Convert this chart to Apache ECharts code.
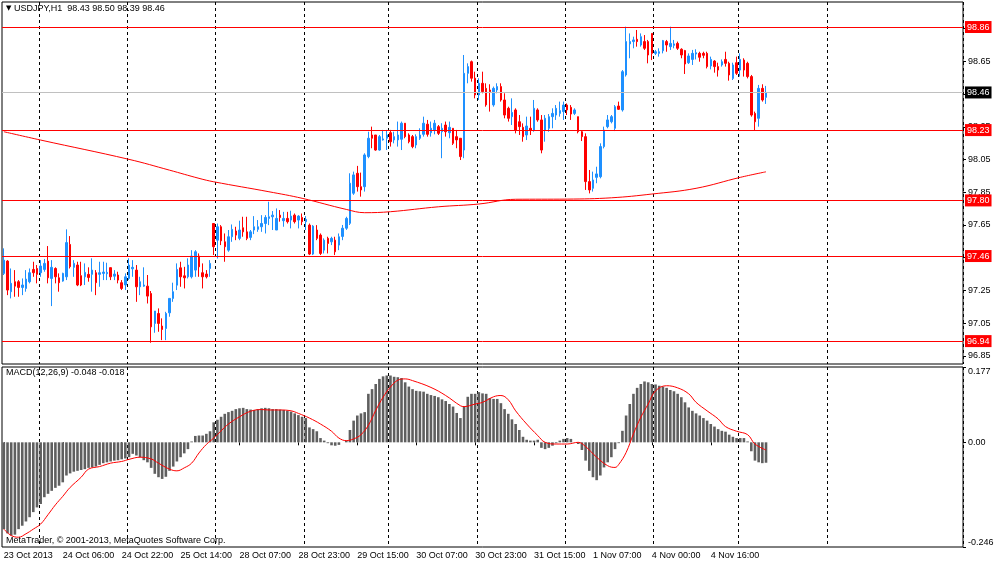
<!DOCTYPE html>
<html lang="en">
<head>
<meta charset="utf-8">
<title>USDJPY,H1</title>
<script src="https://cdn.jsdelivr.net/npm/echarts@6/dist/echarts.min.js"></script>
<style>
  html, body { margin: 0; padding: 0; background: #fff; }
  #chart { width: 1000px; height: 563px; }
</style>
</head>
<body>
<div id="chart"></div>
<script>
// hourly bars, [open, high, low, close]
var candles = [
  [97.354,97.507,97.344,97.435],[97.429,97.435,97.221,97.252],[97.242,97.384,97.201,97.293],[97.303,97.374,97.211,97.276],
  [97.303,97.313,97.211,97.268],[97.268,97.323,97.221,97.283],[97.262,97.374,97.242,97.319],[97.303,97.384,97.293,97.358],
  [97.378,97.425,97.333,97.358],[97.384,97.405,97.293,97.348],[97.358,97.435,97.333,97.399],[97.378,97.442,97.364,97.415],
  [97.429,97.521,97.293,97.327],[97.323,97.435,97.154,97.391],[97.384,97.391,97.293,97.333],[97.327,97.354,97.242,97.297],
  [97.307,97.358,97.303,97.354],[97.333,97.623,97.313,97.542],[97.531,97.582,97.384,97.395],[97.391,97.435,97.333,97.415],
  [97.405,97.425,97.276,97.283],[97.340,97.425,97.276,97.283],[97.333,97.415,97.283,97.360],[97.348,97.391,97.303,97.329],
  [97.348,97.446,97.242,97.374],[97.358,97.374,97.221,97.297],[97.348,97.425,97.272,97.358],[97.354,97.425,97.313,97.362],
  [97.352,97.419,97.313,97.360],[97.389,97.389,97.313,97.333],[97.337,97.374,97.313,97.350],[97.344,97.364,97.293,97.313],
  [97.297,97.313,97.252,97.262],[97.283,97.354,97.252,97.333],[97.323,97.446,97.313,97.405],[97.382,97.435,97.333,97.391],
  [97.374,97.405,97.180,97.272],[97.272,97.333,97.221,97.303],[97.276,97.391,97.272,97.283],[97.276,97.344,97.170,97.215],
  [97.231,97.246,96.930,97.027],[97.048,97.124,96.991,97.124],[97.109,97.140,96.997,97.048],[97.032,97.079,96.946,97.011],
  [97.017,97.119,96.946,97.109],[97.113,97.201,97.089,97.201],[97.201,97.297,97.180,97.242],[97.282,97.415,97.252,97.378],
  [97.388,97.425,97.272,97.333],[97.339,97.394,97.262,97.327],[97.333,97.446,97.323,97.405],[97.333,97.496,97.323,97.460],
  [97.374,97.496,97.333,97.486],[97.460,97.476,97.333,97.394],[97.358,97.415,97.262,97.333],[97.350,97.374,97.323,97.333],
  [97.384,97.435,97.333,97.415],[97.659,97.659,97.466,97.517],[97.557,97.659,97.445,97.639],[97.639,97.649,97.527,97.553],
  [97.547,97.598,97.425,97.517],[97.496,97.619,97.486,97.578],[97.578,97.653,97.547,97.623],[97.613,97.639,97.557,97.588],
  [97.568,97.676,97.557,97.619],[97.633,97.700,97.578,97.608],[97.608,97.700,97.557,97.568],[97.574,97.619,97.557,97.608],
  [97.619,97.704,97.594,97.639],[97.623,97.680,97.608,97.639],[97.639,97.710,97.608,97.659],[97.659,97.710,97.598,97.696],
  [97.690,97.792,97.649,97.700],[97.700,97.735,97.619,97.710],[97.619,97.751,97.619,97.690],[97.710,97.741,97.670,97.696],
  [97.676,97.730,97.639,97.690],[97.690,97.730,97.659,97.670],[97.680,97.737,97.629,97.704],[97.710,97.720,97.659,97.670],
  [97.680,97.710,97.629,97.704],[97.696,97.720,97.649,97.670],[97.670,97.704,97.619,97.684],[97.649,97.659,97.466,97.472],
  [97.472,97.649,97.466,97.643],[97.619,97.649,97.557,97.568],[97.588,97.598,97.466,97.476],[97.496,97.568,97.476,97.557],
  [97.568,97.578,97.476,97.537],[97.547,97.578,97.527,97.568],[97.557,97.578,97.466,97.486],[97.527,97.598,97.496,97.578],
  [97.580,97.650,97.557,97.630],[97.630,97.700,97.620,97.690],[97.660,97.966,97.650,97.905],[97.844,97.976,97.834,97.956],
  [97.966,98.011,97.854,97.884],[97.884,97.970,97.823,97.864],[97.884,98.088,97.854,98.078],[98.068,98.220,98.058,98.180],
  [98.200,98.251,98.119,98.180],[98.200,98.200,98.104,98.108],[98.108,98.200,98.104,98.190],[98.170,98.231,98.166,98.176],
  [98.180,98.231,98.108,98.200],[98.214,98.231,98.129,98.159],[98.170,98.220,98.149,98.190],[98.170,98.282,98.129,98.200],
  [98.174,98.282,98.108,98.272],[98.272,98.272,98.180,98.190],[98.200,98.210,98.149,98.159],[98.190,98.200,98.119,98.129],
  [98.139,98.204,98.119,98.190],[98.180,98.241,98.170,98.200],[98.204,98.312,98.190,98.272],[98.266,98.292,98.190,98.204],
  [98.214,98.282,98.190,98.241],[98.231,98.292,98.204,98.272],[98.251,98.261,98.200,98.210],[98.220,98.272,98.058,98.241],
  [98.261,98.282,98.190,98.220],[98.214,98.282,98.180,98.247],[98.241,98.241,98.139,98.149],[98.190,98.231,98.119,98.170],
  [98.180,98.180,98.047,98.068],[98.108,98.689,98.058,98.577],[98.577,98.638,98.516,98.618],[98.648,98.655,98.526,98.547],
  [98.547,98.587,98.424,98.445],[98.445,98.547,98.414,98.516],[98.516,98.587,98.455,98.465],[98.485,98.516,98.373,98.384],
  [98.475,98.510,98.343,98.465],[98.384,98.496,98.373,98.485],[98.475,98.516,98.455,98.496],[98.496,98.516,98.404,98.414],
  [98.414,98.455,98.302,98.322],[98.363,98.373,98.282,98.302],[98.312,98.424,98.261,98.338],[98.353,98.363,98.210,98.230],
  [98.281,98.322,98.200,98.251],[98.247,98.271,98.159,98.190],[98.200,98.312,98.169,98.255],[98.241,98.312,98.200,98.230],
  [98.230,98.414,98.220,98.363],[98.353,98.363,98.281,98.292],[98.292,98.322,98.088,98.108],[98.230,98.322,98.159,98.302],
  [98.241,98.328,98.220,98.312],[98.312,98.363,98.241,98.332],[98.322,98.383,98.292,98.363],[98.332,98.404,98.312,98.349],
  [98.343,98.404,98.292,98.383],[98.383,98.393,98.322,98.353],[98.369,98.383,98.292,98.328],[98.332,98.363,98.322,98.353],
  [98.312,98.312,98.210,98.220],[98.220,98.230,98.163,98.190],[98.190,98.210,97.864,97.915],[97.915,97.986,97.843,97.864],
  [97.874,97.976,97.854,97.925],[97.941,98.006,97.905,97.962],[97.945,98.149,97.935,98.129],[98.129,98.251,98.118,98.230],
  [98.251,98.322,98.241,98.292],[98.281,98.322,98.271,98.312],[98.241,98.383,98.224,98.373],[98.377,98.404,98.353,98.357],
  [98.353,98.597,98.343,98.587],[98.567,98.862,98.557,98.771],[98.757,98.821,98.669,98.771],[98.771,98.801,98.730,98.781],
  [98.785,98.842,98.740,98.771],[98.750,98.821,98.740,98.801],[98.771,98.811,98.720,98.730],[98.771,98.781,98.638,98.689],
  [98.821,98.821,98.658,98.699],[98.699,98.720,98.689,98.709],[98.699,98.730,98.679,98.709],[98.715,98.781,98.699,98.777],
  [98.771,98.781,98.709,98.750],[98.740,98.862,98.720,98.760],[98.748,98.781,98.730,98.757],[98.760,98.771,98.720,98.730],
  [98.724,98.730,98.669,98.689],[98.716,98.720,98.573,98.634],[98.642,98.699,98.634,98.683],[98.662,98.720,98.628,98.699],
  [98.695,98.724,98.662,98.703],[98.699,98.709,98.648,98.675],[98.699,98.709,98.669,98.687],[98.699,98.709,98.607,98.618],
  [98.622,98.679,98.601,98.662],[98.652,98.658,98.581,98.618],[98.618,98.642,98.557,98.597],[98.628,98.662,98.618,98.648],
  [98.662,98.709,98.618,98.638],[98.638,98.648,98.532,98.567],[98.546,98.642,98.536,98.628],[98.642,98.679,98.567,98.577],
  [98.597,98.699,98.557,98.662],[98.658,98.669,98.557,98.597],[98.638,98.648,98.546,98.557],[98.557,98.567,98.312,98.322],
  [98.332,98.343,98.230,98.281],[98.302,98.506,98.251,98.485],[98.485,98.510,98.404,98.414],[98.430,98.500,98.390,98.460]
];

// moving average, [bar index, price]
var maLine = [
  [0,98.220],[10,98.169],[34,98.051],[45,97.985],[53,97.935],[57,97.914],[72,97.853],[81,97.813],
  [93,97.745],[98,97.725],[105,97.731],[118,97.761],[129,97.778],[139,97.807],[153,97.808],
  [165,97.816],[176,97.839],[188,97.874],[200,97.941],[207,97.975]
];

var macdHist = [
  -0.204,-0.214,-0.219,-0.217,-0.204,-0.196,-0.186,-0.176,-0.164,-0.153,
  -0.145,-0.129,-0.121,-0.114,-0.107,-0.102,-0.094,-0.078,-0.073,-0.069,
  -0.067,-0.065,-0.063,-0.060,-0.059,-0.057,-0.053,-0.049,-0.047,-0.045,
  -0.043,-0.042,-0.040,-0.038,-0.035,-0.027,-0.031,-0.035,-0.042,-0.047,
  -0.060,-0.074,-0.082,-0.086,-0.081,-0.067,-0.057,-0.045,-0.035,-0.026,
  -0.016,0.002,0.015,0.016,0.016,0.020,0.026,0.047,0.053,0.060,
  0.067,0.071,0.074,0.078,0.080,0.081,0.078,0.077,0.076,0.078,
  0.080,0.081,0.080,0.078,0.078,0.077,0.076,0.074,0.072,0.068,
  0.064,0.060,0.057,0.035,0.031,0.026,0.010,0.004,-0.002,-0.007,
  -0.008,-0.006,0.000,0.004,0.029,0.051,0.063,0.068,0.071,0.114,
  0.125,0.137,0.149,0.155,0.157,0.157,0.154,0.153,0.151,0.141,
  0.131,0.125,0.121,0.120,0.119,0.114,0.111,0.109,0.106,0.101,
  0.097,0.090,0.084,0.069,0.057,0.084,0.107,0.114,0.114,0.118,
  0.115,0.114,0.104,0.102,0.102,0.092,0.078,0.067,0.054,0.043,
  0.029,0.013,0.006,0.004,0.004,0.006,-0.013,-0.016,-0.013,-0.008,
  -0.002,0.004,0.008,0.010,0.008,0.000,-0.004,-0.018,-0.043,-0.067,
  -0.082,-0.089,-0.078,-0.059,-0.047,-0.035,-0.016,-0.002,0.027,0.063,
  0.090,0.114,0.128,0.137,0.143,0.141,0.137,0.136,0.133,0.131,
  0.128,0.123,0.120,0.114,0.106,0.094,0.082,0.074,0.068,0.063,
  0.057,0.051,0.043,0.037,0.031,0.027,0.025,0.018,0.013,0.010,
  0.010,0.010,0.002,-0.021,-0.043,-0.047,-0.049,-0.048
];

// signal line, [bar index, value]
var macdSignal = [
  [0,-0.204],[2,-0.219],[4,-0.223],[6,-0.215],[8,-0.204],[10,-0.192],[12,-0.170],[14,-0.147],
  [16,-0.127],[18,-0.106],[21,-0.082],[23,-0.063],[26,-0.057],[29,-0.049],[32,-0.045],[34,-0.040],
  [37,-0.035],[40,-0.039],[42,-0.049],[45,-0.063],[47,-0.067],[49,-0.060],[51,-0.049],[53,-0.025],
  [55,-0.005],[57,0.010],[59,0.027],[61,0.043],[64,0.060],[67,0.073],[70,0.077],[72,0.076],
  [75,0.076],[78,0.074],[80,0.068],[83,0.057],[86,0.043],[89,0.026],[91,0.010],[93,0.004],
  [95,0.008],[97,0.018],[99,0.040],[101,0.075],[103,0.106],[105,0.130],[107,0.146],[109,0.149],
  [111,0.145],[116,0.129],[120,0.110],[124,0.086],[125,0.084],[128,0.090],[130,0.094],[133,0.107],
  [135,0.110],[137,0.100],[139,0.074],[142,0.043],[145,0.016],[147,0.000],[150,-0.004],[153,-0.004],
  [156,0.000],[158,-0.010],[161,-0.035],[164,-0.055],[166,-0.059],[167,-0.052],[169,-0.024],[171,0.020],
  [173,0.059],[175,0.090],[177,0.121],[180,0.133],[183,0.128],[186,0.114],[188,0.094],[191,0.074],
  [194,0.055],[196,0.037],[199,0.026],[202,0.018],[204,-0.004],[207,-0.018]
];

var levels = [98.86, 98.23, 97.80, 97.46, 96.94];
var lastPrice = [98.46];
var priceTicks = [98.85, 98.65, 98.45, 98.25, 98.05, 97.85, 97.65, 97.45, 97.25, 97.05, 96.85];
var timeLabels = ['23 Oct 2013', '24 Oct 06:00', '24 Oct 22:00', '25 Oct 14:00', '28 Oct 07:00',
  '28 Oct 23:00', '29 Oct 15:00', '30 Oct 07:00', '30 Oct 23:00', '31 Oct 15:00',
  '1 Nov 07:00', '4 Nov 00:00', '4 Nov 16:00'];

var SLOTS = 261;          // bar slots across the visible width
var LABEL_EVERY = 16;     // bars between time labels
var gridBars = [10, 34, 58, 82, 105, 129, 153, 177, 200, 224];
var FONT = '"Liberation Sans", Arial, sans-serif';
var PMIN = 96.80, PMAX = 99.013;

var slots = [];
for (var i = 0; i < SLOTS; i++) slots.push(String(i));

function isLabelBar(idx) {
  return idx % LABEL_EVERY === 0 && idx / LABEL_EVERY < timeLabels.length;
}
function isGridBar(idx) {
  return gridBars.indexOf(idx) !== -1;
}
function fix2(v) { return v.toFixed(2); }

var vSplit = { show: true, interval: isGridBar, lineStyle: { color: '#000', width: 1, type: [3, 3] } };

function rightAxis(grid, min, max, ticks, fmt, vAlign) {
  return {
    type: 'value', gridIndex: grid, position: 'right', min: min, max: max,
    splitLine: { show: false },
    axisLine: { show: false },
    axisTick: { show: true, customValues: ticks, length: 3, lineStyle: { color: '#000' } },
    axisLabel: {
      customValues: ticks, formatter: fmt, color: '#000', fontSize: 9, fontFamily: FONT,
      margin: 5, verticalAlign: vAlign, showMinLabel: true, showMaxLabel: true
    }
  };
}

// horizontal price levels drawn as split lines of an overlay axis, with boxed labels
function levelAxis(values, lineColor, boxColor) {
  return {
    type: 'value', gridIndex: 0, position: 'right', min: PMIN, max: PMAX, z: 3,
    axisLine: { show: false },
    axisTick: { show: false, customValues: values },
    splitLine: { show: true, lineStyle: { color: lineColor, width: 1, type: 'solid' } },
    axisLabel: {
      customValues: values, formatter: fix2, color: '#fff', backgroundColor: boxColor,
      padding: [2, 2, 1, 2], fontSize: 9, fontFamily: FONT, margin: 2,
      showMinLabel: true, showMaxLabel: true
    }
  };
}

var chart = echarts.init(document.getElementById('chart'));
chart.setOption({
  animation: false,
  backgroundColor: '#ffffff',
  textStyle: { fontFamily: FONT },
  title: [
    {
      left: 6, top: 4, padding: 0,
      text: '{t|\u25BC} USDJPY,H1  98.43 98.50 98.39 98.46',
      textStyle: { fontSize: 9, fontWeight: 'normal', color: '#000', fontFamily: FONT,
        rich: { t: { fontSize: 7, fontFamily: 'DejaVu Sans', color: '#000' } } }
    },
    {
      left: 6, top: 368, padding: 0,
      text: 'MACD(12,26,9) -0.048 -0.018',
      textStyle: { fontSize: 9, fontWeight: 'normal', color: '#000', fontFamily: FONT }
    },
    {
      left: 6, top: 536, padding: 0,
      text: 'MetaTrader, \u00A9 2001-2013, MetaQuotes Software Corp.',
      textStyle: { fontSize: 9, fontWeight: 'normal', color: '#000', fontFamily: FONT }
    }
  ],
  grid: [
    { left: 2, right: 37, top: 2, height: 362, show: true, borderColor: '#000', borderWidth: 1 },
    { left: 2, right: 37, top: 367, height: 180, show: true, borderColor: '#000', borderWidth: 1 }
  ],
  xAxis: [
    {
      type: 'category', gridIndex: 0, data: slots, boundaryGap: true,
      axisLine: { show: false }, axisTick: { show: false }, axisLabel: { show: false },
      splitLine: vSplit
    },
    {
      type: 'category', gridIndex: 1, data: slots, boundaryGap: true,
      axisLine: { show: false },
      axisTick: { show: true, interval: isLabelBar, alignWithLabel: true, length: 3, lineStyle: { color: '#000' } },
      axisLabel: {
        interval: isLabelBar, align: 'left', color: '#000', fontSize: 9, fontFamily: FONT, margin: 4,
        formatter: function (val, idx) { return timeLabels[idx / LABEL_EVERY] || ''; }
      },
      splitLine: vSplit
    }
  ],
  yAxis: [
    rightAxis(0, PMIN, PMAX, priceTicks, fix2, 'middle'),
    rightAxis(1, -0.246, 0.177, [0], function () { return '0.00'; }, 'middle'),
    rightAxis(1, -0.246, 0.177, [0.177], function (v) { return v.toFixed(3); }, 'top'),
    rightAxis(1, -0.246, 0.177, [-0.246], function (v) { return v.toFixed(3); }, 'bottom'),
    levelAxis(levels, '#ff0000', '#ff0000'),
    levelAxis(lastPrice, '#c0c0c0', '#000000')
  ],
  series: [
    {
      type: 'candlestick', xAxisIndex: 0, yAxisIndex: 0,
      data: candles.map(function (c) { return [c[0], c[3], c[2], c[1]]; }),
      barWidth: 2,
      itemStyle: { color: '#1e90ff', color0: '#ff0000', borderColor: '#1e90ff', borderColor0: '#ff0000', borderWidth: 1 }
    },
    {
      type: 'line', xAxisIndex: 0, yAxisIndex: 0, data: maLine, smooth: 0.4,
      symbol: 'none', lineStyle: { color: '#ff0000', width: 1 }
    },
    {
      type: 'bar', xAxisIndex: 1, yAxisIndex: 1, data: macdHist, barWidth: 2.6,
      itemStyle: { color: '#5f5f5f' }
    },
    {
      type: 'line', xAxisIndex: 1, yAxisIndex: 1, data: macdSignal, smooth: 0.4,
      symbol: 'none', lineStyle: { color: '#ff0000', width: 1 }
    }
  ]
});
</script>
</body>
</html>
